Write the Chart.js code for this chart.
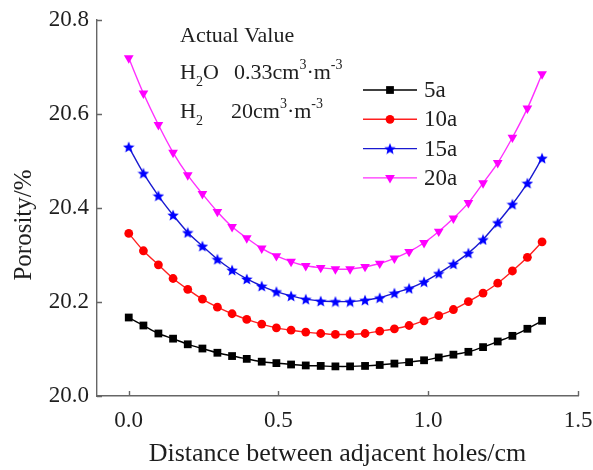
<!DOCTYPE html>
<html><head><meta charset="utf-8">
<script src="https://cdn.jsdelivr.net/npm/chart.js@4/dist/chart.umd.min.js"></script>
<style>html,body{margin:0;padding:0;background:#fff}#wrap{width:593px;height:470px}</style>
</head><body><div id="wrap"><canvas id="c" width="593" height="470"></canvas></div>
<script>
// ---- data ----
const distance = [0.000,0.049,0.099,0.148,0.197,0.246,0.296,0.345,0.394,0.444,0.493,0.542,0.591,0.641,0.690,
                  0.739,0.789,0.838,0.887,0.936,0.986,1.035,1.084,1.134,1.183,1.232,1.281,1.331,1.380];
const porosity5a  = [20.167,20.150,20.133,20.122,20.110,20.101,20.092,20.085,20.079,20.073,20.070,20.067,20.065,20.064,20.063,
                     20.063,20.064,20.066,20.069,20.072,20.076,20.082,20.088,20.094,20.104,20.116,20.128,20.143,20.160];
const porosity10a = [20.346,20.309,20.279,20.250,20.227,20.206,20.189,20.175,20.163,20.153,20.145,20.140,20.136,20.133,20.131,
                     20.131,20.133,20.138,20.143,20.150,20.160,20.171,20.184,20.201,20.219,20.240,20.266,20.295,20.328];
const porosity15a = [20.530,20.474,20.426,20.385,20.348,20.319,20.291,20.268,20.249,20.234,20.222,20.213,20.206,20.202,20.201,
                     20.201,20.204,20.209,20.219,20.229,20.243,20.261,20.281,20.304,20.333,20.369,20.408,20.453,20.506];
const porosity20a = [20.719,20.644,20.577,20.518,20.470,20.430,20.392,20.360,20.336,20.314,20.298,20.286,20.277,20.273,20.270,
                     20.270,20.275,20.282,20.293,20.307,20.326,20.350,20.378,20.411,20.453,20.496,20.550,20.612,20.685];
const seriesLabels = ['5a', '10a', '15a', '20a'];
const xTicks = [0.0, 0.5, 1.0, 1.5];
const yTicks = [20.0, 20.2, 20.4, 20.6, 20.8];

const FONT = '"Liberation Serif", "Times New Roman", serif';
const TXT = '#1e1e1e';
const AXIS = '#666';
Chart.defaults.font.family = FONT;

function makeStar(color, size) {
  const c = document.createElement('canvas'); c.width = size; c.height = size;
  const g = c.getContext('2d'); g.fillStyle = color; g.beginPath();
  const cx = size / 2, cy = size / 2 + 0.6, R = size / 2, r = R * 0.45;
  for (let k = 0; k < 10; k++) {
    const a = -Math.PI / 2 + k * Math.PI / 5, rad = k % 2 ? r : R;
    g.lineTo(cx + rad * Math.cos(a), cy + rad * Math.sin(a));
  }
  g.closePath(); g.fill(); return c;
}
const starImg = makeStar('#0000ff', 12);

const styles = [
  {color: '#000000', line: '#000000', pointStyle: 'rect', radius: 5.5, rotation: 0},
  {color: '#ff0000', line: '#ff2020', pointStyle: 'circle', radius: 4.4, rotation: 0},
  {color: '#0000ff', line: '#1a1ad0', pointStyle: starImg, radius: 6, rotation: 0},
  {color: '#ff00ff', line: '#ff30ff', pointStyle: 'triangle', radius: 5.6, rotation: 180}
];
const seriesValues = [porosity5a, porosity10a, porosity15a, porosity20a];

const datasets = seriesValues.map((vals, i) => ({
  label: seriesLabels[i],
  data: vals.map((v, j) => ({x: distance[j], y: v})),
  borderColor: styles[i].line,
  backgroundColor: styles[i].color,
  borderWidth: 1.4,
  pointStyle: styles[i].pointStyle,
  pointRadius: styles[i].radius,
  pointRotation: styles[i].rotation,
  pointBackgroundColor: styles[i].color,
  pointBorderColor: styles[i].color,
  pointBorderWidth: 0,
  tension: 0.3,
  fill: false
}));

const innerTicks = {
  id: 'innerTicks',
  afterDraw(chart) {
    const ctx = chart.ctx, a = chart.chartArea;
    const xs = chart.scales.x, ys = chart.scales.y;
    ctx.save(); ctx.strokeStyle = AXIS; ctx.lineWidth = 1.4;
    ctx.beginPath();
    xTicks.forEach(v => { const px = Math.round(xs.getPixelForValue(v)) + 0.5; ctx.moveTo(px, a.bottom); ctx.lineTo(px, a.bottom - 5); });
    yTicks.forEach(v => { const py = Math.round(ys.getPixelForValue(v)) + 0.5; ctx.moveTo(a.left, py); ctx.lineTo(a.left + 5, py); });
    ctx.stroke(); ctx.restore();
  }
};

function drawRuns(ctx, x, baseline, runs) {
  for (const r of runs) {
    if (r.x !== undefined) x = r.x;
    ctx.font = r.size + 'px ' + FONT;
    ctx.fillText(r.t, x, baseline + (r.dy || 0));
    x += ctx.measureText(r.t).width;
  }
}

const annotations = {
  id: 'annotations',
  afterDraw(chart) {
    const ctx = chart.ctx;
    ctx.save();
    ctx.fillStyle = TXT; ctx.textBaseline = 'alphabetic'; ctx.textAlign = 'left';
    drawRuns(ctx, 180, 42, [{t: 'Actual Value', size: 22}]);
    drawRuns(ctx, 180, 79, [
      {t: 'H', size: 22}, {t: '2', size: 14, dy: 7}, {t: 'O', size: 22},
      {t: '0.33cm', size: 22, x: 234}, {t: '3', size: 14, dy: -10}, {t: '\u00b7m', size: 22}, {t: '-3', size: 14, dy: -10}
    ]);
    drawRuns(ctx, 180, 118, [
      {t: 'H', size: 22}, {t: '2', size: 14, dy: 7},
      {t: '20cm', size: 22, x: 231}, {t: '3', size: 14, dy: -10}, {t: '\u00b7m', size: 22}, {t: '-3', size: 14, dy: -10}
    ]);
    // y axis title
    ctx.translate(24, 225); ctx.rotate(-Math.PI / 2);
    ctx.textAlign = 'center'; ctx.textBaseline = 'middle';
    ctx.font = '25px ' + FONT;
    ctx.fillText('Porosity/%', 0, 0);
    ctx.restore();

    // legend
    ctx.save();
    chart.data.datasets.forEach((ds, i) => {
      const y = 90 + i * 29.3;
      ctx.strokeStyle = ds.borderColor; ctx.lineWidth = 1.4;
      ctx.beginPath(); ctx.moveTo(363, y); ctx.lineTo(417, y); ctx.stroke();
      ctx.fillStyle = ds.pointBackgroundColor; ctx.strokeStyle = ds.pointBorderColor;
      Chart.helpers.drawPoint(ctx, {pointStyle: ds.pointStyle, radius: ds.pointRadius, rotation: ds.pointRotation, borderWidth: 0}, 390, y);
      ctx.fillStyle = TXT; ctx.font = '23px ' + FONT; ctx.textAlign = 'left'; ctx.textBaseline = 'middle';
      ctx.fillText(ds.label, 424, y + 1);
    });
    ctx.restore();
  }
};

function noPad(s) { s.paddingLeft = 0; s.paddingRight = 0; s.paddingTop = 0; s.paddingBottom = 0; }

new Chart(document.getElementById('c'), {
  type: 'line',
  data: {datasets},
  options: {
    responsive: false, animation: false, devicePixelRatio: 1,
    layout: {padding: {top: 20, right: 15, left: 0, bottom: 0}},
    plugins: {legend: {display: false}, tooltip: {enabled: false}},
    scales: {
      x: {
        type: 'linear', min: -0.106, max: 1.5,
        afterBuildTicks: s => { s.ticks = xTicks.map(v => ({value: v})); },
        afterFit: s => { s.height = 74; noPad(s); },
        ticks: {callback: v => v.toFixed(1), font: {family: FONT, size: 23}, color: TXT, padding: 11, maxRotation: 0, autoSkip: false},
        grid: {display: true, drawOnChartArea: false, drawTicks: false},
        border: {display: true, color: AXIS, width: 1.4},
        title: {display: true, text: 'Distance between adjacent holes/cm', font: {family: FONT, size: 26}, color: TXT, padding: {top: 0, bottom: 0}}
      },
      y: {
        type: 'linear', min: 20.0, max: 20.8,
        afterBuildTicks: s => { s.ticks = yTicks.map(v => ({value: v})); },
        afterFit: s => { s.width = 97; noPad(s); },
        ticks: {callback: v => v.toFixed(1), font: {family: FONT, size: 23}, color: TXT, padding: 8},
        grid: {display: true, drawOnChartArea: false, drawTicks: false},
        border: {display: true, color: AXIS, width: 1.4}
      }
    }
  },
  plugins: [innerTicks, annotations]
});
</script>
</body></html>
